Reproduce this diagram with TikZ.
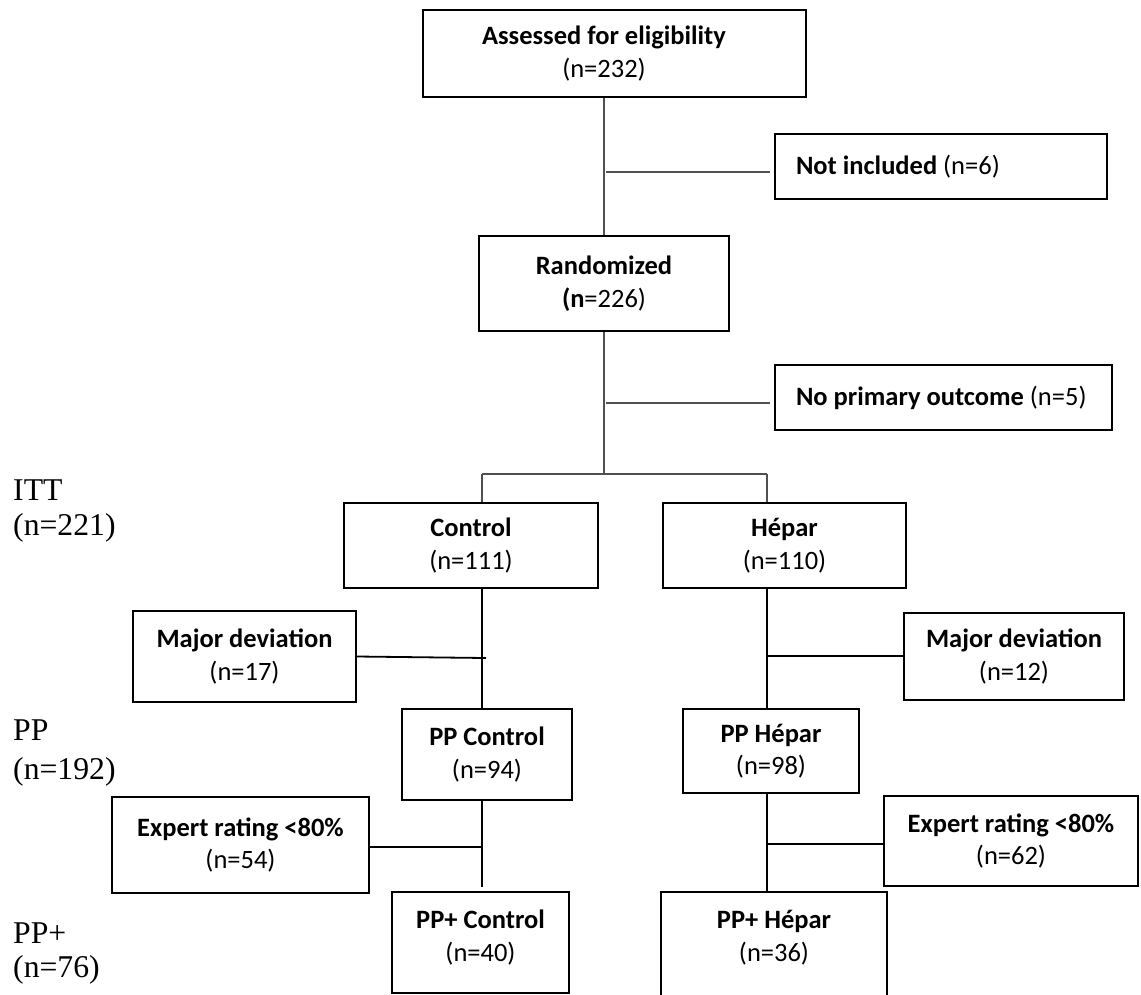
\documentclass[tikz,border=0pt]{standalone}
\usepackage{fontspec}
\setmainfont{Carlito}
\newfontfamily\tnr{Liberation Serif}
\newcommand\bxf{\fontsize{26.5pt}{32.5pt}\selectfont}
\newcommand\sdf{\tnr\fontsize{31.7pt}{38pt}\selectfont}
\definecolor{linegray}{RGB}{80,80,80}
\begin{document}
\begin{tikzpicture}[x=1pt,y=-1pt,
  box/.style={draw=black, line width=2pt, inner sep=0pt, align=center, font=\bxf},
  lbox/.style={box, inner xsep=21pt},
  txt/.style={inner sep=0pt, align=center, font=\bxf},
  conn/.style={line width=1.6pt, draw=linegray},
  conndark/.style={line width=1.8pt, draw=black},
  side/.style={font=\sdf, anchor=west, inner sep=0pt}]
\useasboundingbox (0,0) rectangle (1141,994);
\clip (0,0) rectangle (1141,994);

% boxes
\node[box, minimum width=383pt, minimum height=87pt] (assess) at (614.5,53.5)
  {\hspace*{-21pt}\textbf{Assessed for eligibility}\\\hspace*{-21pt}(n=232)};
\node[lbox, minimum width=332pt, minimum height=65pt] (notinc) at (941,166.5)
  {\makebox[290pt][l]{\textbf{Not included} (n=6)}};
\node[box, minimum width=250pt, minimum height=95pt] (rand) at (604,283.5)
  {\textbf{Randomized}\\\textbf{(n}=226)};
\node[lbox, minimum width=337pt, minimum height=65pt] (noprim) at (943.5,397.5)
  {\makebox[295pt][l]{\raisebox{3pt}{\textbf{No primary outcome} (n=5)}}};
\node[box, minimum width=254pt, minimum height=85pt] (ctrl) at (471,545.5)
  {\textbf{Control}\\(n=111)};
\node[box, minimum width=243pt, minimum height=85pt] (hep) at (784.5,545.5)
  {\textbf{Hépar}\\(n=110)};
\node[box, minimum width=223pt, minimum height=91pt] (mdl) at (244.5,656.5)
  {\textbf{Major deviation}\\(n=17)};
\node[box, minimum width=220pt, minimum height=87pt] (mdr) at (1014,656.5)
  {\textbf{Major deviation}\\(n=12)};
\node[box, minimum width=170pt, minimum height=91pt] (ppc) at (487,754.5)
  {\textbf{PP Control}\\(n=94)};
\node[box, minimum width=176pt, minimum height=84pt] (pph) at (771,751)
  {\textbf{PP Hépar}\\(n=98)};
\node[box, minimum width=257pt, minimum height=96pt] (exl) at (240.5,845)
  {\textbf{Expert rating <80\%}\\(n=54)};
\node[box, minimum width=254pt, minimum height=90pt] (exr) at (1011,841)
  {\textbf{Expert rating <80\%}\\(n=62)};
\node[box, minimum width=177pt, minimum height=101pt] (ppcp) at (480.5,942.5) {};
\node[txt] (ppcptxt) at (480.5,937.5) {\textbf{PP+ Control}\\(n=40)};
\node[box, minimum width=226pt, minimum height=106pt] (pphp) at (774,945) {};
\node[txt] (pphptxt) at (774,937.5) {\textbf{PP+ Hépar}\\(n=36)};

% side labels
\node[side] (itt) at (13,490) {ITT};
\node[side] (ittn) at (13,528) {(n=221)};
\node[side] (pp) at (13,730) {PP};
\node[side] (ppn) at (13,772) {(n=192)};
\node[side] (ppp) at (13,933) {PP+};
\node[side] (pppn) at (13,970) {(n=76)};

% junction coordinates
\coordinate (j1) at (604,172);
\coordinate (j2) at (604,403);
\coordinate (j3) at (604,474);
\coordinate (bl) at (482,474);
\coordinate (brr) at (767,474);
\coordinate (k1) at (486,658);
\coordinate (k2) at (767,656);
\coordinate (k3) at (483,847);
\coordinate (k4) at (766,844);

% upper connectors
\draw[conn] (rand.north |- assess.south) -- (rand.north);
\draw[conn, shorten >=4pt] ([xshift=2pt]j1) -- (j1 -| notinc.west);
\draw[conn] (rand.south) -- (j3);
\draw[conn, shorten >=4pt] ([xshift=2pt]j2) -- (j2 -| noprim.west);
\draw[conn] (bl) -- (brr);
\draw[conn] (bl) -- (bl |- ctrl.north);
\draw[conn] (brr) -- (brr |- hep.north);

% lower connectors
\draw[conndark] (bl |- ctrl.south) -- (bl |- ppc.north);
\draw[conndark] (mdl.east) -- (k1);
\draw[conndark] (brr |- hep.south) -- (brr |- pph.north);
\draw[conndark] (k2) -- (k2 -| mdr.west);
\draw[conndark, shorten >=4pt] (bl |- ppc.south) -- (bl |- ppcp.north);
\draw[conndark] (exl.east |- k3) -- (k3);
\draw[conndark] (brr |- pph.south) -- (brr |- pphp.north);
\draw[conndark] (k4) -- (k4 -| exr.west);
\end{tikzpicture}
\end{document}
